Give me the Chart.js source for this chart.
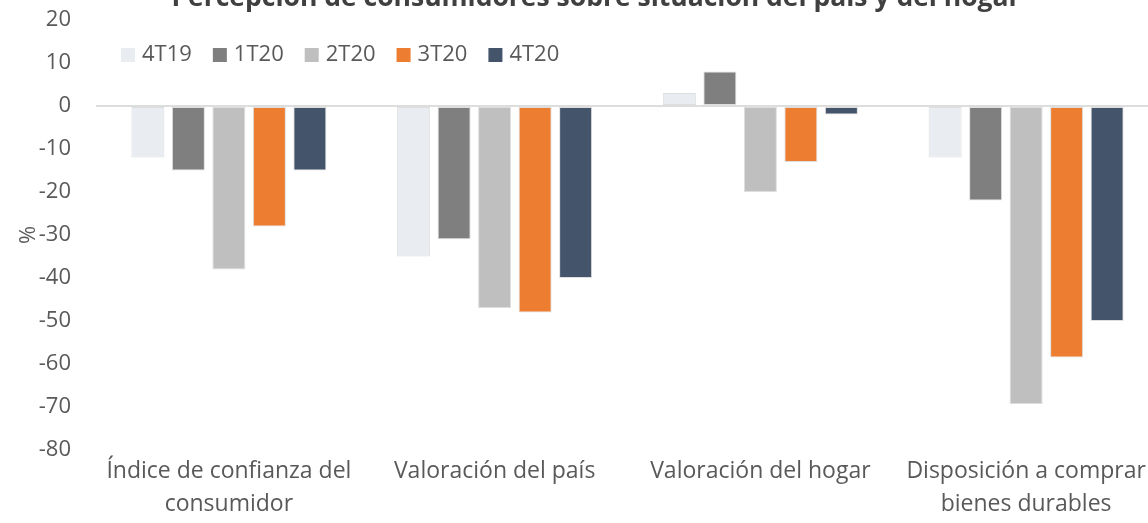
<!DOCTYPE html>
<html>
<head>
<meta charset="utf-8">
<script src="https://cdn.jsdelivr.net/npm/chart.js@4.4.1/dist/chart.umd.min.js"></script>
<style>
  html, body { margin: 0; padding: 0; background: #ffffff; overflow: hidden; }
  #wrap { position: relative; width: 1160px; height: 523px; }
  canvas { display: block; }
</style>
</head>
<body>
<div id="wrap"><canvas id="c" width="1160" height="523"></canvas></div>
<script>
const chartTitle = "Percepción de consumidores sobre situación del país y del hogar";
const categories = [
  ["Índice de confianza del", "consumidor"],
  "Valoración del país",
  "Valoración del hogar",
  ["Disposición a comprar", "bienes durables"]
];
const seriesNames = ["4T19", "1T20", "2T20", "3T20", "4T20"];
const v4T19 = [-12, -35, 3, -12];
const v1T20 = [-15, -31, 8, -22];
const v2T20 = [-38, -47, -20, -69.3];
const v3T20 = [-28, -48, -13, -58.5];
const v4T20 = [-15, -40, -2, -50];
const yTicks = [20, 10, 0, -10, -20, -30, -40, -50, -60, -70, -80];
const colors = ["#E9ECF1", "#7F7F7F", "#BFBFBF", "#ED7D31", "#44546A"];

const seriesValues = [v4T19, v1T20, v2T20, v3T20, v4T20];
const FONT = "'Open Sans', 'DejaVu Sans', sans-serif";
const TXT = "#595959";

const titlePlugin = {
  id: 'cutTitle',
  afterDraw(chart) {
    const ctx = chart.ctx;
    ctx.save();
    ctx.font = "bold 26.5px " + FONT;
    ctx.fillStyle = "#404040";
    ctx.textAlign = "center";
    ctx.textBaseline = "alphabetic";
    ctx.fillText(chartTitle, 596, 6);
    ctx.restore();
  }
};

// Horizontal legend placed inside the plot area, built from the chart's datasets
const legendPlugin = {
  id: 'inLegend',
  afterDraw(chart) {
    const ctx = chart.ctx;
    ctx.save();
    ctx.font = "22px " + FONT;
    ctx.textBaseline = "middle";
    ctx.textAlign = "left";
    let x = 121;
    const yMid = 55;
    chart.data.datasets.forEach(ds => {
      ctx.fillStyle = ds.backgroundColor;
      ctx.fillRect(x, 48, 14, 14);
      ctx.fillStyle = TXT;
      ctx.fillText(ds.label, x + 21, yMid);
      x += 14 + 7 + ctx.measureText(ds.label).width + 21;
    });
    ctx.restore();
  }
};

new Chart(document.getElementById('c'), {
  type: 'bar',
  data: {
    labels: categories,
    datasets: seriesNames.map((n, i) => ({
      label: n,
      data: seriesValues[i],
      backgroundColor: colors[i],
      borderColor: 'rgba(200,200,200,0.6)',
      borderWidth: 1,
      borderSkipped: false,
      categoryPercentage: 0.762,
      barPercentage: 0.815
    }))
  },
  options: {
    responsive: false,
    animation: false,
    layout: { padding: { top: 20, left: 16, right: 1, bottom: 0 } },
    plugins: {
      title: { display: false },
      tooltip: { enabled: false },
      legend: { display: false }
    },
    scales: {
      x: {
        grid: { display: false, drawTicks: false },
        border: { display: false },
        ticks: {
          color: TXT,
          padding: 5,
          maxRotation: 0,
          autoSkip: false,
          font: { family: FONT, size: 23, lineHeight: 1.43 }
        },
        afterFit(scale) { scale.height = 73; }
      },
      y: {
        min: -80,
        max: 20,
        afterBuildTicks(scale) { scale.ticks = yTicks.map(v => ({ value: v })); },
        grid: {
          drawTicks: false,
          lineWidth: 2,
          color: (ctx) => (ctx.tick && ctx.tick.value === 0) ? '#DDDDDD' : 'rgba(0,0,0,0)'
        },
        border: { display: false },
        ticks: {
          color: TXT,
          padding: 25,
          font: { family: FONT, size: 22 }
        },
        title: {
          display: true,
          text: '%',
          color: TXT,
          padding: { top: 0, bottom: 0 },
          font: { family: FONT, size: 22, lineHeight: 1.2 }
        },
        afterFit(scale) {
          scale.width = 80;
          scale.paddingTop = 10;
          scale.paddingBottom = 10;
        }
      }
    }
  },
  plugins: [titlePlugin, legendPlugin]
});
</script>
</body>
</html>
